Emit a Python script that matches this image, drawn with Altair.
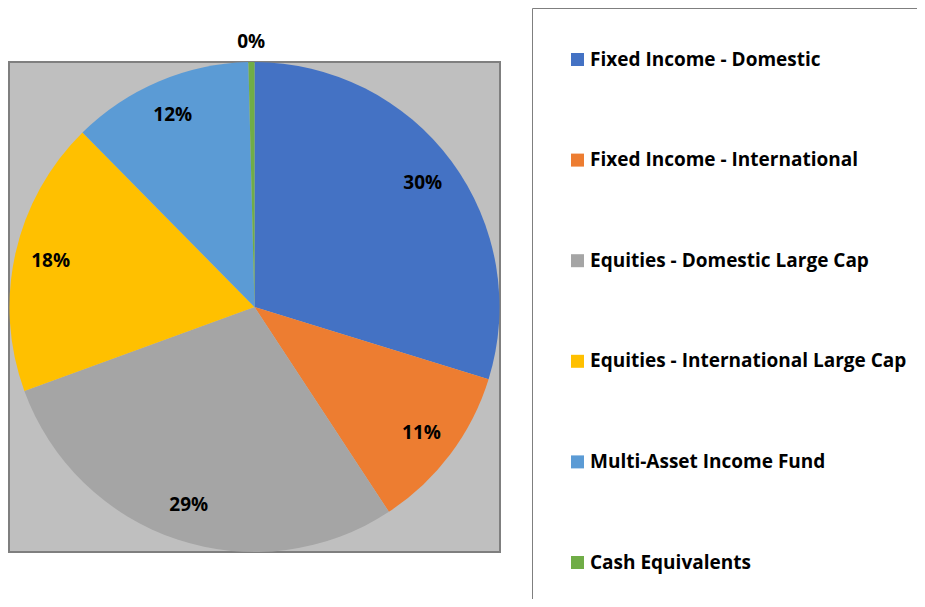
import altair as alt
import pandas as pd

categories = [
    "Fixed Income - Domestic",
    "Fixed Income - International",
    "Equities - Domestic Large Cap",
    "Equities - International Large Cap",
    "Multi-Asset Income Fund",
    "Cash Equivalents",
]
shares = [29.8, 11.0, 28.7, 18.2, 12.0, 0.4]
colors = ["#4472C4", "#ED7D31", "#A5A5A5", "#FFC000", "#5B9BD5", "#70AD47"]

df = pd.DataFrame({"cat": categories, "value": shares, "idx": list(range(len(categories)))})

FONT = "Open Sans"
FS = 19

background = alt.Chart(alt.Data(values=[{}])).mark_rect(
    fill="#BFBFBF", stroke="#7F7F7F", strokeWidth=2
).encode(
    x=alt.value(0), x2=alt.value("width"), y=alt.value(0), y2=alt.value("height")
)

base = alt.Chart(df).transform_joinaggregate(
    total="sum(value)"
).transform_calculate(
    labelA="datum.value >= 1 ? format(datum.value / datum.total, '.0%') : ''",
    labelB="datum.value < 1 ? format(datum.value / datum.total, '.0%') : ''",
).encode(
    theta=alt.Theta("value:Q", stack=True),
    order=alt.Order("idx:Q", sort="ascending"),
)

pie = base.mark_arc(strokeWidth=0).encode(
    color=alt.Color(
        "cat:N",
        sort=categories,
        scale=alt.Scale(domain=categories, range=colors),
        legend=alt.Legend(
            title=" ",
            orient="none",
            legendX=523,
            legendY=-54,
            direction="vertical",
            symbolType="square",
            symbolSize=169,
            symbolStrokeWidth=0,
            labelFont=FONT,
            labelFontSize=FS,
            labelFontWeight="bold",
            labelColor="black",
            labelLimit=600,
            labelOffset=3,
            rowPadding=80.6,
            padding=36,
            titleFontSize=1,
            titlePadding=5,
            strokeColor="#7F7F7F",
            fillColor="white",
            cornerRadius=0,
        ),
    )
)

text_main = base.mark_text(
    radius=209, font=FONT, fontSize=FS, fontWeight="bold", color="black"
).encode(text="labelA:N", detail="cat:N")

text_small = base.mark_text(
    radius=265, font=FONT, fontSize=FS, fontWeight="bold", color="black"
).encode(text="labelB:N", detail="cat:N")

chart = alt.layer(background, pie, text_main, text_small).properties(
    width=491,
    height=490,
    autosize=alt.AutoSizeParams(type="none"),
    padding={"left": 1, "top": 54, "right": 417, "bottom": 47},
).configure(
    background="white"
).configure_view(
    strokeWidth=0
)

chart.save("out.html", embed_options={"renderer": "svg", "actions": False})
